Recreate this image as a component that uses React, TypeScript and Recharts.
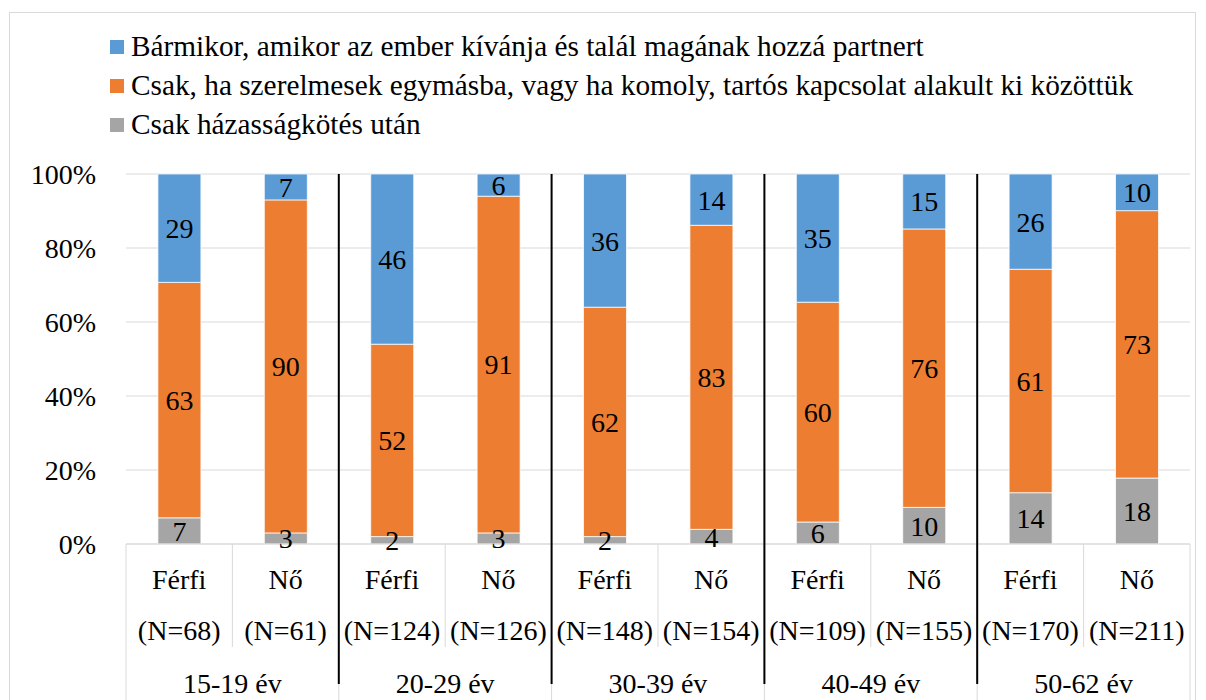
import { BarChart, Bar, XAxis, YAxis, CartesianGrid, LabelList } from 'recharts'

const FONT = 'Liberation Serif, Tinos, Times New Roman, serif'

const SEXES = ['Férfi', 'Nő', 'Férfi', 'Nő', 'Férfi', 'Nő', 'Férfi', 'Nő', 'Férfi', 'Nő']
const SAMPLE_SIZES = ['(N=68)', '(N=61)', '(N=124)', '(N=126)', '(N=148)', '(N=154)', '(N=109)', '(N=155)', '(N=170)', '(N=211)']
const AGE_GROUPS = ['15-19 év', '15-19 év', '20-29 év', '20-29 év', '30-39 év', '30-39 év', '40-49 év', '40-49 év', '50-62 év', '50-62 év']

const ANYTIME = [29, 7, 46, 6, 36, 14, 35, 15, 26, 10]
const IN_LOVE = [63, 90, 52, 91, 62, 83, 60, 76, 61, 73]
const AFTER_MARRIAGE = [7, 3, 2, 3, 2, 4, 6, 10, 14, 18]

const Y_TICKS = [0, 0.2, 0.4, 0.6, 0.8, 1]

const SERIES = [
  { key: 'anytime', name: 'Bármikor, amikor az ember kívánja és talál magának hozzá partnert', color: '#5B9BD5' },
  { key: 'inLove', name: 'Csak, ha szerelmesek egymásba, vagy ha komoly, tartós kapcsolat alakult ki közöttük', color: '#ED7D31' },
  { key: 'afterMarriage', name: 'Csak házasságkötés után', color: '#A5A5A5' },
]

const data = SEXES.map((sex, i) => ({
  id: String(i),
  sex,
  n: SAMPLE_SIZES[i],
  age: AGE_GROUPS[i],
  anytime: ANYTIME[i],
  inLove: IN_LOVE[i],
  afterMarriage: AFTER_MARRIAGE[i],
}))

const W = 1206
const H = 700
const PLOT_TOP = 174
const Y_AXIS_W = 126
const RIGHT = 16
const X_AXIS_H = 156
const PLOT_W = W - Y_AXIS_W - RIGHT
const PLOT_H = H - PLOT_TOP - X_AXIS_H
const BAND = PLOT_W / data.length
const FS = 28
const LEGEND_FS = 29.3

const GRID = '#D9D9D9'
const textStyle = { fontFamily: FONT, fontSize: FS }

function CategoryTick({ x, y, index }: any) {
  const row = data[index]
  const half = BAND / 2
  const firstOfGroup = index % 2 === 0
  const last = index === data.length - 1
  return (
    <g>
      <text x={x} y={y + 35} textAnchor="middle" dominantBaseline="central" style={textStyle} fill="#000">
        {row.sex}
      </text>
      <text x={x} y={y + 86} textAnchor="middle" dominantBaseline="central" style={textStyle} fill="#000">
        {row.n}
      </text>
      <line x1={x - half} x2={x - half} y1={y} y2={firstOfGroup ? y + X_AXIS_H : y + 103} stroke={GRID} strokeWidth={1} />
      {last && <line x1={x + half} x2={x + half} y1={y} y2={y + X_AXIS_H} stroke={GRID} strokeWidth={1} />}
      {firstOfGroup && (
        <text x={x + half} y={y + 139} textAnchor="middle" dominantBaseline="central" style={textStyle} fill="#000">
          {row.age}
        </text>
      )}
      {firstOfGroup && index > 0 && (
        <line x1={x - half} x2={x - half} y1={y - PLOT_H} y2={y + 140} stroke="#000" strokeWidth={2} />
      )}
    </g>
  )
}

export default function App() {
  return (
    <div style={{ position: 'absolute', left: 0, top: 0, width: W, height: H, background: '#fff', overflow: 'hidden' }}>
      <style>{`.chart-root, .chart-root text { font-family: ${FONT}; }`}</style>
      <div className="chart-root">
        <div style={{ position: 'absolute', left: 9, top: 12, width: 1187, height: 720, border: `1px solid ${GRID}`, boxSizing: 'border-box' }} />
        <div style={{ position: 'absolute', left: 110, top: 27 }}>
          {SERIES.map((s) => (
            <div key={s.key} style={{ display: 'flex', alignItems: 'center', height: 39, fontSize: LEGEND_FS, fontFamily: FONT, color: '#000', whiteSpace: 'nowrap' }}>
              <span style={{ width: 14, height: 14, background: s.color, marginRight: 7, display: 'inline-block' }} />
              <span>{s.name}</span>
            </div>
          ))}
        </div>
        <BarChart
          width={W}
          height={H}
          data={data}
          stackOffset="expand"
          margin={{ top: PLOT_TOP, right: RIGHT, bottom: 0, left: 0 }}
          barCategoryGap="30%"
          style={{ position: 'absolute', left: 0, top: 0 }}
        >
          <CartesianGrid vertical={false} stroke={GRID} strokeWidth={1} />
          <XAxis
            dataKey="id"
            height={X_AXIS_H}
            interval={0}
            tickSize={0}
            tickMargin={0}
            tickLine={false}
            axisLine={{ stroke: GRID, strokeWidth: 1 }}
            tick={<CategoryTick />}
          />
          <YAxis
            width={Y_AXIS_W}
            domain={[0, 1]}
            ticks={Y_TICKS}
            tickFormatter={(v: number) => `${Math.round(v * 100)}%`}
            axisLine={false}
            tickLine={false}
            tickSize={0}
            tickMargin={30}
            tick={{ fontSize: FS, fontFamily: FONT, fill: '#000' }}
          />
          {[...SERIES].reverse().map((s) => (
            <Bar key={s.key} dataKey={s.key} name={s.name} stackId="a" fill={s.color} stroke="#fff" strokeWidth={0.75} isAnimationActive={false}>
              <LabelList dataKey={s.key} position="center" fontSize={FS} fontFamily={FONT} fill="#000" />
            </Bar>
          ))}
        </BarChart>
      </div>
    </div>
  )
}
